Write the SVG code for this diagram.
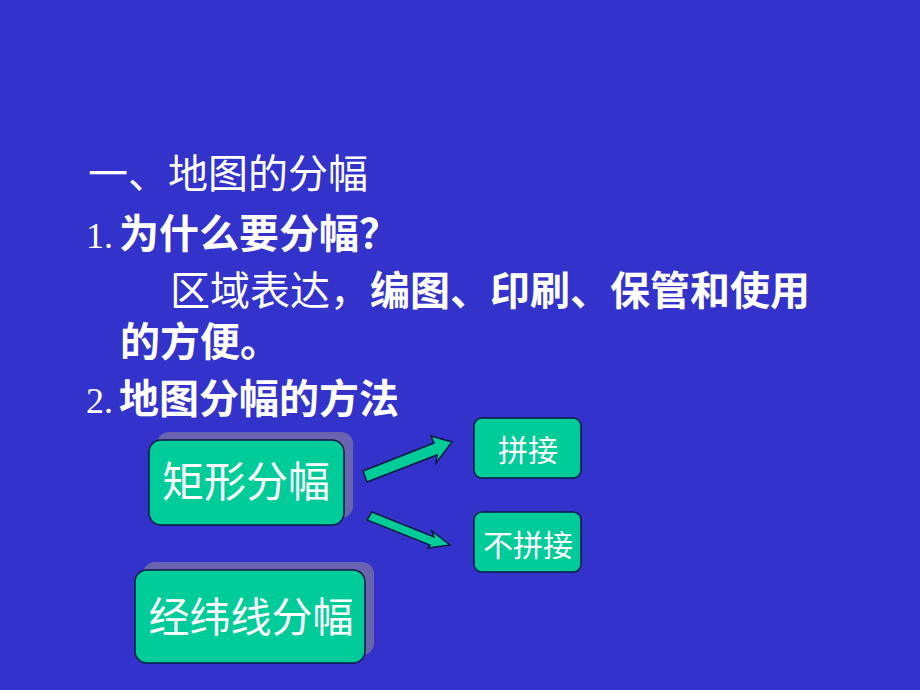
<svg xmlns="http://www.w3.org/2000/svg" width="920" height="690" viewBox="0 0 920 690">
<style>
.t{font-family:"Noto Sans CJK SC","Noto Sans",sans-serif;fill:#fff;font-size:40px}
.b{font-weight:bold}
.n{font-family:"Liberation Serif","Noto Sans CJK SC",serif;fill:#fff;font-size:36px}
.box{fill:#00cc99;stroke:#0a1a40;stroke-width:1.5}
.sh{fill:#6a64b0}
.arr{fill:#00cc99;stroke:#0a1a40;stroke-width:1.5}
.bt{font-family:"Noto Sans CJK SC",sans-serif;fill:#fff;text-anchor:middle}
</style>
<rect width="920" height="690" fill="#3333cc"/>
<g id="text">
<text class="t" x="88" y="188" font-size="44">一、地图的分幅</text>
<text x="86" y="248"><tspan class="n">1.</tspan><tspan class="t b" dx="6" font-size="38">为什么要分幅？</tspan></text>
<text x="170" y="305"><tspan class="t">区域表达，</tspan><tspan class="t b">编图、印刷、保管和使用</tspan></text>
<text class="t b" x="120" y="356">的方便。</text>
<text x="86" y="413"><tspan class="n">2.</tspan><tspan class="t b" dx="6">地图分幅的方法</tspan></text>
</g>
<g id="n1">
<rect class="sh" x="157" y="432" width="196" height="86" rx="12"/>
<rect class="box" x="149" y="440" width="195" height="85" rx="12"/>
<text class="bt" x="246" y="497" font-size="42">矩形分幅</text>
</g>
<g id="n2">
<rect class="sh" x="143" y="562" width="231" height="93" rx="12"/>
<rect class="box" x="135" y="570" width="230" height="93" rx="12"/>
<text class="bt" x="251" y="632" font-size="41">经纬线分幅</text>
</g>
<g id="n3">
<rect class="box" x="474" y="418" width="107" height="60" rx="8"/>
<text class="bt" x="528" y="461" font-size="30">拼接</text>
</g>
<g id="n4">
<rect class="box" x="474" y="512" width="107" height="60" rx="8"/>
<text class="bt" x="528" y="556" font-size="30">不拼接</text>
</g>
<g id="connectors">
<polygon class="arr" points="363,471 434,443 431,436 452,442 436,463 437,455 367,482"/>
<polygon class="arr" points="372,512 434,537 432,531 450,545 428,548 430,545 367,520"/>
</g>
</svg>
